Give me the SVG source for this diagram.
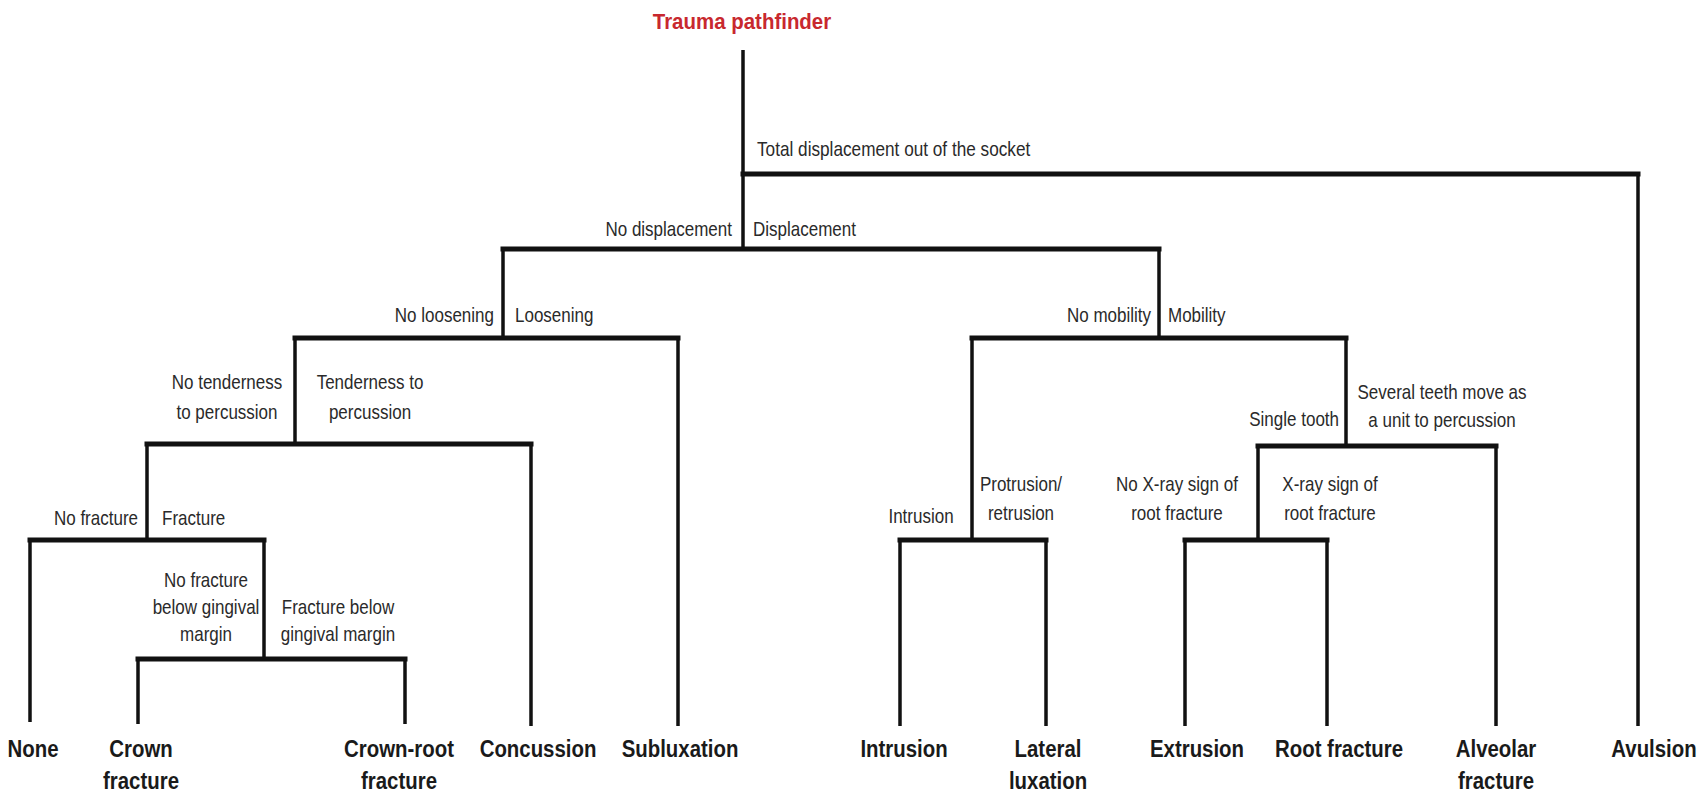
<svg xmlns="http://www.w3.org/2000/svg" width="1703" height="796" viewBox="0 0 1703 796">
<style>
  .h { fill: none; stroke: #111; stroke-width: 5; stroke-linecap: square; }
  .v { fill: none; stroke: #111; stroke-width: 3.5; stroke-linecap: butt; }
  .lbl { font-family: "Liberation Sans", Arial, sans-serif; font-size: 20px; fill: #2a2a2a; }
  .end { text-anchor: end; }
  .mid { text-anchor: middle; }
  .out { font-family: "Liberation Sans", Arial, sans-serif; font-size: 24px; font-weight: bold; fill: #1a1a1a; text-anchor: middle; }
  .title { font-family: "Liberation Sans", Arial, sans-serif; font-size: 22px; font-weight: bold; fill: #c8282e; text-anchor: middle; }
</style>
<rect width="1703" height="796" fill="#ffffff"/>

<g id="connectors">
  <!-- verticals -->
  <path class="v" d="M743 50 V249"/>
  <path class="v" d="M1638 174 V726"/>
  <path class="v" d="M503 249 V338"/>
  <path class="v" d="M1159 249 V338"/>
  <path class="v" d="M295 338 V444"/>
  <path class="v" d="M678 338 V726"/>
  <path class="v" d="M147 444 V540"/>
  <path class="v" d="M531 444 V726"/>
  <path class="v" d="M30 540 V722"/>
  <path class="v" d="M264 540 V659"/>
  <path class="v" d="M138 659 V724"/>
  <path class="v" d="M405 659 V724"/>
  <path class="v" d="M972 338 V540"/>
  <path class="v" d="M1346 338 V446"/>
  <path class="v" d="M900 540 V726"/>
  <path class="v" d="M1046 540 V726"/>
  <path class="v" d="M1258 446 V540"/>
  <path class="v" d="M1496 446 V726"/>
  <path class="v" d="M1185 540 V726"/>
  <path class="v" d="M1327 540 V726"/>
  <!-- horizontals -->
  <path class="h" d="M743 174 H1638"/>
  <path class="h" d="M503 249 H1159"/>
  <path class="h" d="M295 338 H678"/>
  <path class="h" d="M972 338 H1346"/>
  <path class="h" d="M147 444 H531"/>
  <path class="h" d="M1258 446 H1496"/>
  <path class="h" d="M30 540 H264"/>
  <path class="h" d="M900 540 H1046"/>
  <path class="h" d="M1185 540 H1327"/>
  <path class="h" d="M138 659 H405"/>
</g>

<g id="title"><text class="title" transform="translate(742 29) scale(0.93 1)" x="0" y="0">Trauma pathfinder</text></g>

<g id="lbl-total"><text class="lbl" transform="translate(757 156) scale(0.86 1)" x="0" y="0">Total displacement out of the socket</text></g>
<g id="lbl-nodisp"><text class="lbl end" transform="translate(732 236) scale(0.85 1)" x="0" y="0">No displacement</text></g>
<g id="lbl-disp"><text class="lbl" transform="translate(753 236) scale(0.85 1)" x="0" y="0">Displacement</text></g>
<g id="lbl-noloose"><text class="lbl end" transform="translate(494 322) scale(0.85 1)" x="0" y="0">No loosening</text></g>
<g id="lbl-loose"><text class="lbl" transform="translate(515 322) scale(0.85 1)" x="0" y="0">Loosening</text></g>
<g id="lbl-notender"><text class="lbl mid" transform="translate(227 389) scale(0.85 1)"><tspan x="0" y="0">No tenderness</tspan><tspan x="0" y="30">to percussion</tspan></text></g>
<g id="lbl-tender"><text class="lbl mid" transform="translate(370 389) scale(0.85 1)"><tspan x="0" y="0">Tenderness to</tspan><tspan x="0" y="30">percussion</tspan></text></g>
<g id="lbl-nofrac"><text class="lbl end" transform="translate(138 525) scale(0.85 1)" x="0" y="0">No fracture</text></g>
<g id="lbl-frac"><text class="lbl" transform="translate(162 525) scale(0.85 1)" x="0" y="0">Fracture</text></g>
<g id="lbl-nofracgm"><text class="lbl mid" transform="translate(206 587) scale(0.85 1)"><tspan x="0" y="0">No fracture</tspan><tspan x="0" y="27">below gingival</tspan><tspan x="0" y="54">margin</tspan></text></g>
<g id="lbl-fracgm"><text class="lbl mid" transform="translate(338 614) scale(0.85 1)"><tspan x="0" y="0">Fracture below</tspan><tspan x="0" y="27">gingival margin</tspan></text></g>
<g id="lbl-nomob"><text class="lbl end" transform="translate(1151 322) scale(0.85 1)" x="0" y="0">No mobility</text></g>
<g id="lbl-mob"><text class="lbl" transform="translate(1168 322) scale(0.85 1)" x="0" y="0">Mobility</text></g>
<g id="lbl-intrusion"><text class="lbl mid" transform="translate(921 523) scale(0.85 1)" x="0" y="0">Intrusion</text></g>
<g id="lbl-protrusion"><text class="lbl mid" transform="translate(1021 491) scale(0.85 1)"><tspan x="0" y="0">Protrusion/</tspan><tspan x="0" y="29">retrusion</tspan></text></g>
<g id="lbl-noxray"><text class="lbl mid" transform="translate(1177 491) scale(0.85 1)"><tspan x="0" y="0">No X-ray sign of</tspan><tspan x="0" y="29">root fracture</tspan></text></g>
<g id="lbl-xray"><text class="lbl mid" transform="translate(1330 491) scale(0.85 1)"><tspan x="0" y="0">X-ray sign of</tspan><tspan x="0" y="29">root fracture</tspan></text></g>
<g id="lbl-single"><text class="lbl end" transform="translate(1339 426) scale(0.85 1)" x="0" y="0">Single tooth</text></g>
<g id="lbl-several"><text class="lbl mid" transform="translate(1442 399) scale(0.85 1)"><tspan x="0" y="0">Several teeth move as</tspan><tspan x="0" y="28">a unit to percussion</tspan></text></g>

<g id="out-none"><text class="out" transform="translate(33 757) scale(0.85 1)" x="0" y="0">None</text></g>
<g id="out-crown"><text class="out" transform="translate(141 757) scale(0.85 1)"><tspan x="0" y="0">Crown</tspan><tspan x="0" y="32">fracture</tspan></text></g>
<g id="out-crownroot"><text class="out" transform="translate(399 757) scale(0.85 1)"><tspan x="0" y="0">Crown-root</tspan><tspan x="0" y="32">fracture</tspan></text></g>
<g id="out-concussion"><text class="out" transform="translate(538 757) scale(0.85 1)" x="0" y="0">Concussion</text></g>
<g id="out-subluxation"><text class="out" transform="translate(680 757) scale(0.85 1)" x="0" y="0">Subluxation</text></g>
<g id="out-intrusion"><text class="out" transform="translate(904 757) scale(0.85 1)" x="0" y="0">Intrusion</text></g>
<g id="out-lateral"><text class="out" transform="translate(1048 757) scale(0.85 1)"><tspan x="0" y="0">Lateral</tspan><tspan x="0" y="32">luxation</tspan></text></g>
<g id="out-extrusion"><text class="out" transform="translate(1197 757) scale(0.85 1)" x="0" y="0">Extrusion</text></g>
<g id="out-rootfrac"><text class="out" transform="translate(1339 757) scale(0.85 1)" x="0" y="0">Root fracture</text></g>
<g id="out-alveolar"><text class="out" transform="translate(1496 757) scale(0.85 1)"><tspan x="0" y="0">Alveolar</tspan><tspan x="0" y="32">fracture</tspan></text></g>
<g id="out-avulsion"><text class="out" transform="translate(1654 757) scale(0.85 1)" x="0" y="0">Avulsion</text></g>
</svg>
